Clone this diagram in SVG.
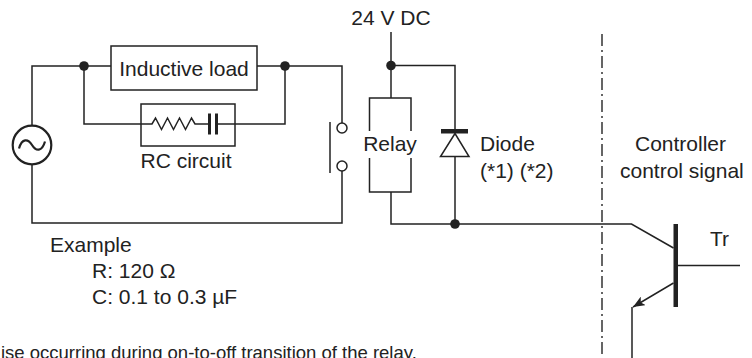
<svg xmlns="http://www.w3.org/2000/svg" width="752" height="358" viewBox="0 0 752 358">
  <style>
    .w { fill: none; stroke: #222; stroke-width: 1.5; stroke-linejoin: miter; }
    .dot { fill: #222; }
    .t { font-family: "Liberation Sans", Arial, sans-serif; font-size: 21px; fill: #222; }
    .dash { fill: none; stroke: #333; stroke-width: 1.5; stroke-dasharray: 12 4 2 4; }
  </style>
  <defs>
    <marker id="arr" markerUnits="userSpaceOnUse" markerWidth="12" markerHeight="10" viewBox="0 0 12 10" refX="12" refY="5" orient="auto">
      <path d="M0,0 L12,5 L0,10 L3,5 z" fill="#222"/>
    </marker>
  </defs>
  <rect width="752" height="358" fill="#fff"/>

  <g id="connectors">
    <!-- left load circuit -->
    <path class="w" d="M32,126 V66 H111"/>
    <path class="w" d="M257,66 H342 V123"/>
    <path class="w" d="M32,164.5 V223 H342 V171"/>
    <path class="w" d="M84,66 V124 H141"/>
    <path class="w" d="M235,124 H285 V66"/>
    <!-- relay / diode circuit -->
    <path class="w" d="M391,32 V98"/>
    <path class="w" d="M391,65.5 H455 V131"/>
    <path class="w" d="M455,156.5 V224"/>
    <path class="w" d="M391,192 V224 H631.5 L673.5,248"/>
    <path class="w" d="M678,265.5 H740"/>
    <path class="w" d="M632,307 V358"/>
  </g>

  <g id="junctions">
    <circle class="dot" cx="84" cy="66" r="4.8"/>
    <circle class="dot" cx="285" cy="66" r="4.8"/>
    <circle class="dot" cx="391" cy="65.5" r="4.8"/>
    <circle class="dot" cx="455" cy="224" r="4.8"/>
  </g>

  <g id="ac-source">
    <circle cx="32" cy="145" r="19.3" fill="#fff" stroke="#222" stroke-width="2.2"/>
    <path d="M19,148.5 C22,138 28,138.5 32,145 C36,151.5 42,152 45,141.5" fill="none" stroke="#222" stroke-width="2.2"/>
  </g>

  <g id="inductive-load">
    <rect class="w" x="111" y="46" width="146" height="44"/>
    <text class="t" x="184" y="76" text-anchor="middle">Inductive load</text>
  </g>

  <g id="rc-circuit">
    <rect class="w" x="141" y="104" width="94" height="42"/>
    <path class="w" d="M141,124 H152 L155.5,118 L161.5,129.5 L167.5,118 L173.5,129.5 L179.5,118 L185.5,129.5 L191.5,118 L195,124 H209.5 M216.5,124 H235"/>
    <path d="M209.5,113.5 V134.5 M216.5,113.5 V134.5" fill="none" stroke="#222" stroke-width="3"/>
    <text class="t" x="186" y="168" text-anchor="middle">RC circuit</text>
  </g>

  <g id="switch">
    <circle class="w" cx="342" cy="128" r="5" fill="#fff"/>
    <circle class="w" cx="342" cy="166" r="5" fill="#fff"/>
    <path class="w" d="M330,122 V173"/>
  </g>

  <g id="relay">
    <path class="w" d="M369.5,131 V98 H411 V131 M369.5,158 V192 H411 V158"/>
    <text class="t" x="390" y="151" text-anchor="middle">Relay</text>
  </g>

  <g id="diode">
    <rect x="441" y="129" width="27" height="4.5" fill="#222"/>
    <polygon points="455,133.5 440.5,156.5 469,156.5" fill="#fff" stroke="#222" stroke-width="1.5"/>
    <text class="t" x="480" y="151">Diode</text>
    <text class="t" x="480" y="178">(*1) (*2)</text>
  </g>

  <g id="transistor">
    <rect x="673.5" y="224" width="4.5" height="83" fill="#222"/>
    <path class="w" d="M673.5,283 L633,307" marker-end="url(#arr)"/>
    <text class="t" x="710" y="246">Tr</text>
  </g>

  <g id="boundary">
    <path class="dash" d="M602,34 V358"/>
  </g>

  <g id="labels">
    <text class="t" x="391" y="25" text-anchor="middle">24 V DC</text>
    <text class="t" x="635" y="151">Controller</text>
    <text class="t" x="620" y="178">control signal</text>
    <text class="t" x="50" y="252">Example</text>
    <text class="t" x="92" y="278">R: 120 Ω</text>
    <text class="t" x="92" y="304">C: 0.1 to 0.3 µF</text>
    <text class="t" x="1" y="358.5" style="font-size:18.5px">ise occurring during on-to-off transition of the relay.</text>
  </g>
</svg>
